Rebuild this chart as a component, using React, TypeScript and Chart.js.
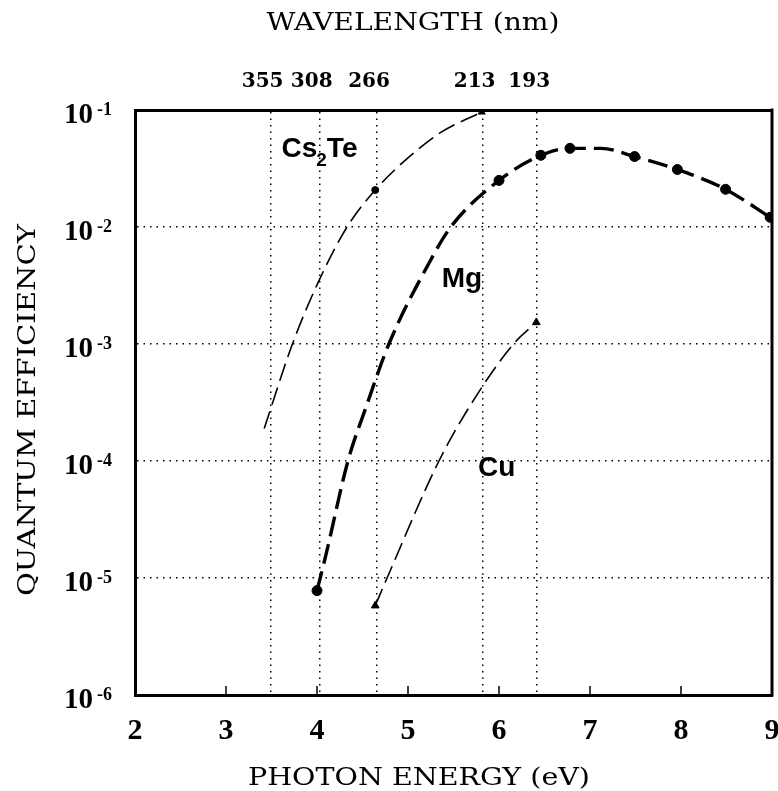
import React, { useEffect, useRef } from 'react';
import { Chart, registerables } from 'chart.js';

Chart.register(...registerables);

// ---- axis ticks ----
const energyTicks = [2, 3, 4, 5, 6, 7, 8, 9];
const wavelengthTickEnergy = [3.49, 4.03, 4.66, 5.82, 6.42];
const wavelengthTickLabels = ['355', '308', '266', '213', '193'];
const qeTickValues = [1e-1, 1e-2, 1e-3, 1e-4, 1e-5, 1e-6];
const qeTickExponents = ['-1', '-2', '-3', '-4', '-5', '-6'];

// ---- Cs2Te ----
const cs2teEnergy = [3.42, 3.73, 4.0, 4.33, 4.64, 5.0, 5.37, 5.81];
const cs2teQE = [1.9e-4, 1.0e-3, 3.2e-3, 1.0e-2, 2.07e-2, 3.9e-2, 6.5e-2, 9.6e-2];
const cs2teMarkEnergy = [4.64, 5.81];
const cs2teMarkQE = [2.07e-2, 9.6e-2];

// ---- Mg ----
const mgEnergy = [4.0, 4.1, 4.34, 4.54, 4.79, 5.23, 5.47, 6.0, 6.46, 6.78, 7.12, 7.49, 7.96, 8.49, 8.98];
const mgQE = [7.8e-6, 1.6e-5, 1.0e-4, 2.9e-4, 1.0e-3, 4.9e-3, 1.0e-2, 2.5e-2, 4.1e-2, 4.7e-2, 4.7e-2, 4.0e-2, 3.1e-2, 2.1e-2, 1.21e-2];
const mgMarkEnergy = [4.0, 6.0, 6.46, 6.78, 7.49, 7.96, 8.49, 8.98];
const mgMarkQE = [7.8e-6, 2.5e-2, 4.1e-2, 4.7e-2, 4.0e-2, 3.1e-2, 2.1e-2, 1.21e-2];

// ---- Cu ----
const cuEnergy = [4.64, 4.77, 5.34, 5.74, 6.16, 6.41];
const cuQE = [5.8e-6, 1.0e-5, 1.0e-4, 3.5e-4, 1.0e-3, 1.53e-3];
const cuMarkEnergy = [4.64, 6.41];
const cuMarkQE = [5.8e-6, 1.53e-3];

// ---- series labels (placed in data units) ----
const labelEnergy = [3.61, 5.37, 5.77];
const labelQE = [0.0396, 3.05e-3, 7.5e-5];

const toPoints = (xs: number[], ys: number[]) => xs.map((x, i) => ({ x, y: ys[i] }));

const SERIF = '"DejaVu Serif", serif';
const TIMES = '"Liberation Serif", "Times New Roman", serif';
const SANS = '"Liberation Sans", Arial, sans-serif';

function drawStretched(ctx: CanvasRenderingContext2D, text: string, cx: number, baseY: number, width: number, rotate = false) {
  const w = ctx.measureText(text).width;
  const sx = width / w;
  ctx.save();
  ctx.translate(cx, baseY);
  if (rotate) ctx.rotate(-Math.PI / 2);
  ctx.scale(sx, 1);
  ctx.textAlign = 'center';
  ctx.textBaseline = 'alphabetic';
  ctx.fillText(text, 0, 0);
  ctx.restore();
}

const decorPlugin = {
  id: 'decor',
  afterDraw(chart: any) {
    const { ctx, chartArea: a, scales } = chart;
    const xs = scales.x;
    const ys = scales.y;
    ctx.save();
    ctx.strokeStyle = '#000';
    ctx.fillStyle = '#000';
    // right frame
    ctx.lineWidth = 3;
    ctx.beginPath();
    ctx.moveTo(a.right, a.top - 1.5);
    ctx.lineTo(a.right, a.bottom + 1.5);
    ctx.stroke();
    // inner tick marks on bottom axis
    ctx.lineWidth = 1.5;
    energyTicks.slice(1, -1).forEach((v) => {
      const px = xs.getPixelForValue(v);
      ctx.beginPath();
      ctx.moveTo(px, a.bottom);
      ctx.lineTo(px, a.bottom - 9);
      ctx.stroke();
    });
    // y tick labels with superscripts
    qeTickValues.forEach((v, i) => {
      const py = ys.getPixelForValue(v);
      ctx.font = `bold 29px ${TIMES}`;
      ctx.textAlign = 'right';
      ctx.textBaseline = 'alphabetic';
      ctx.fillText('10', a.left - 42, py + 13);
      ctx.font = `bold 18px ${TIMES}`;
      ctx.textAlign = 'left';
      ctx.fillText(qeTickExponents[i], a.left - 38, py + 5);
    });
    // axis titles
    ctx.font = `25px ${SERIF}`;
    drawStretched(ctx, 'PHOTON ENERGY (eV)', 419, 785, 342);
    drawStretched(ctx, 'WAVELENGTH (nm)', 413, 30, 293);
    drawStretched(ctx, 'QUANTUM EFFICIENCY', 35, 410, 372, true);

    // series labels
    ctx.textAlign = 'left';
    ctx.textBaseline = 'alphabetic';
    // Cs2Te
    let px = xs.getPixelForValue(labelEnergy[0]);
    let py = ys.getPixelForValue(labelQE[0]);
    ctx.font = `bold 28px ${SANS}`;
    ctx.fillText('Cs', px, py);
    const w = ctx.measureText('Cs').width;
    ctx.font = `bold 19px ${SANS}`;
    ctx.fillText('2', px + w - 1, py + 9);
    const w2 = ctx.measureText('2').width;
    ctx.font = `bold 28px ${SANS}`;
    ctx.fillText('Te', px + w - 1 + w2, py);
    // Mg
    px = xs.getPixelForValue(labelEnergy[1]);
    py = ys.getPixelForValue(labelQE[1]);
    ctx.fillText('Mg', px, py);
    // Cu
    px = xs.getPixelForValue(labelEnergy[2]);
    py = ys.getPixelForValue(labelQE[2]);
    ctx.fillText('Cu', px, py);
    ctx.restore();
  },
};

export default function App() {
  const ref = useRef<HTMLCanvasElement | null>(null);
  useEffect(() => {
    if (!ref.current) return;
    const thin = { borderColor: '#000', backgroundColor: '#000', borderWidth: 1.6, borderDash: [18, 7], pointRadius: 0, cubicInterpolationMode: 'monotone' as const, fill: false };
    const chart = new Chart(ref.current, {
      type: 'line',
      data: {
        datasets: [
          { label: 'Cs2Te', data: toPoints(cs2teEnergy, cs2teQE), ...thin },
          { label: 'Mg', data: toPoints(mgEnergy, mgQE), ...thin, borderWidth: 3.4, borderDash: [20, 8] },
          { label: 'Cu', data: toPoints(cuEnergy, cuQE), ...thin },
          { label: 'Cs2Te points', data: toPoints(cs2teMarkEnergy, cs2teMarkQE), showLine: false, pointRadius: [3.5, 4], pointStyle: ['circle', 'triangle'], pointBackgroundColor: '#000', pointBorderColor: '#000', pointBorderWidth: 1 },
          { label: 'Mg points', data: toPoints(mgMarkEnergy, mgMarkQE), showLine: false, pointRadius: 5, pointStyle: 'circle', pointBackgroundColor: '#000', pointBorderColor: '#000', pointBorderWidth: 1 },
          { label: 'Cu points', data: toPoints(cuMarkEnergy, cuMarkQE), showLine: false, pointRadius: 4.5, pointStyle: 'triangle', pointBackgroundColor: '#000', pointBorderColor: '#000', pointBorderWidth: 1 },
        ] as any,
      },
      options: {
        animation: false,
        responsive: false,
        maintainAspectRatio: false,
        layout: { padding: { left: 0, right: 3, top: 0, bottom: 0 } },
        plugins: { legend: { display: false }, tooltip: { enabled: false } },
        scales: {
          x: {
            type: 'linear',
            position: 'bottom',
            min: 2,
            max: 9,
            afterBuildTicks: (s: any) => { s.ticks = energyTicks.map((v) => ({ value: v })); },
            ticks: { autoSkip: false, maxRotation: 0, color: '#000', padding: 18, font: { family: TIMES, size: 30, weight: 'bold' } },
            grid: { display: false, drawTicks: false },
            border: { display: true, color: '#000', width: 3 },
            afterFit: (s: any) => { s.height = 96; s.paddingLeft = 0; s.paddingRight = 0; },
          },
          x2: {
            type: 'linear',
            position: 'top',
            min: 2,
            max: 9,
            afterBuildTicks: (s: any) => { s.ticks = wavelengthTickEnergy.map((v) => ({ value: v })); },
            ticks: {
              autoSkip: false,
              maxRotation: 0,
              color: '#000',
              padding: 16,
              labelOffset: -8,
              font: { family: SERIF, size: 20, weight: 'bold' },
              callback: (_v: any, i: number) => wavelengthTickLabels[i],
            },
            grid: { display: true, drawOnChartArea: true, drawTicks: false, color: '#000', lineWidth: 1.5 },
            border: { display: true, color: '#000', width: 3, dash: [1.5, 5] },
            afterFit: (s: any) => { s.height = 110; s.paddingLeft = 0; s.paddingRight = 0; },
          },
          y: {
            type: 'logarithmic',
            position: 'left',
            min: 1e-6,
            max: 1e-1,
            afterBuildTicks: (s: any) => { s.ticks = qeTickValues.map((v) => ({ value: v })); },
            ticks: { display: false },
            grid: { display: true, drawTicks: false, color: '#000', lineWidth: 1.5 },
            border: { display: true, color: '#000', width: 3, dash: [1.5, 5] },
            afterFit: (s: any) => { s.width = 135; s.paddingTop = 0; s.paddingBottom = 0; },
          },
        } as any,
      },
      plugins: [decorPlugin],
    });
    return () => chart.destroy();
  }, []);

  return (
    <div style={{ position: 'absolute', left: 0, top: 0, width: 778, height: 791, background: '#fff' }}>
      <canvas ref={ref} width={778} height={791} style={{ display: 'block', width: 778, height: 791 }} />
    </div>
  );
}
